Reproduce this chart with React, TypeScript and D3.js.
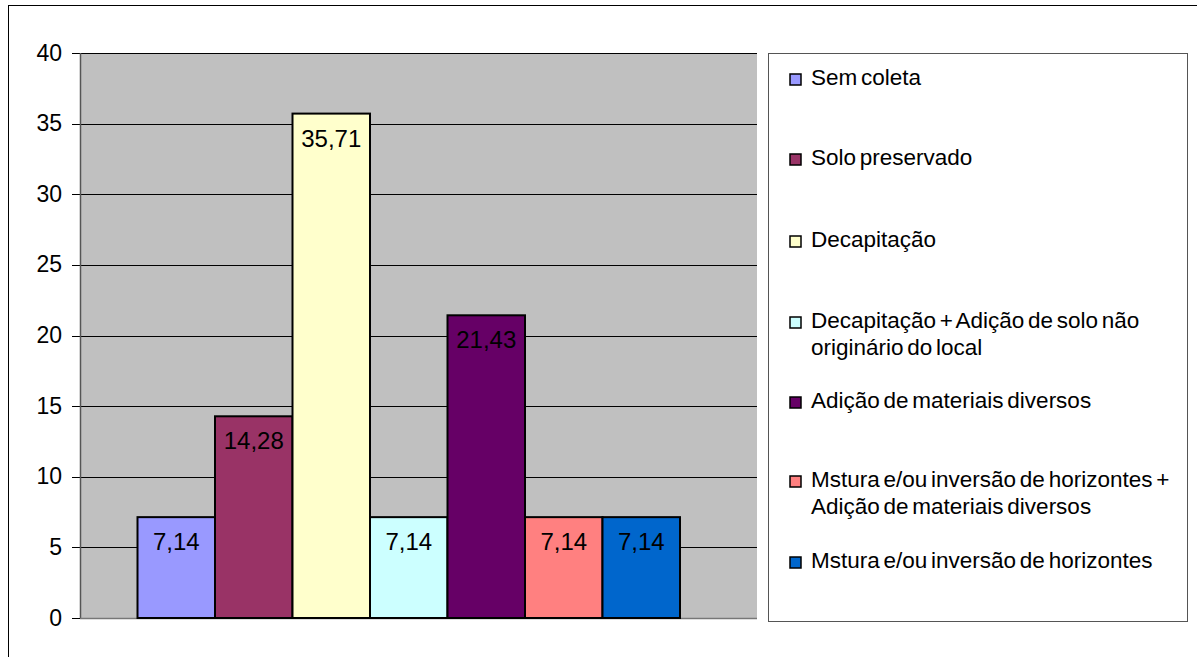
import React from "react";
import * as d3 from "d3";

const series = [
  "Sem coleta",
  "Solo preservado",
  "Decapitação",
  "Decapitação + Adição de solo não originário do local",
  "Adição de materiais diversos",
  "Mstura e/ou inversão de horizontes + Adição de materiais diversos",
  "Mstura e/ou inversão de horizontes",
];
const values = [7.14, 14.28, 35.71, 7.14, 21.43, 7.14, 7.14];
const labels = ["7,14", "14,28", "35,71", "7,14", "21,43", "7,14", "7,14"];
const colors = ["#9999FF", "#993366", "#FFFFCC", "#CCFFFF", "#660066", "#FF8080", "#0066CC"];
const legendLines = [
  ["Sem coleta"],
  ["Solo preservado"],
  ["Decapitação"],
  ["Decapitação + Adição de solo não", "originário do local"],
  ["Adição de materiais diversos"],
  ["Mstura e/ou inversão de horizontes +", "Adição de materiais diversos"],
  ["Mstura e/ou inversão de horizontes"],
];
const yTicks = [0, 5, 10, 15, 20, 25, 30, 35, 40];

const W = 1197, H = 657;
const plot = { x0: 80, x1: 757, y0: 53, y1: 618 };
const font = "'Liberation Sans', Arial, sans-serif";

export default function App() {
  const y = d3.scaleLinear().domain([0, 40]).range([plot.y1, plot.y0]);
  const x = d3.scaleBand<string>().domain(series).range([137.5, 680]).padding(0);
  const legendY = [85, 165, 247, 328, 408, 487, 568];
  return (
    <svg width={W} height={H} style={{ position: "absolute", left: 0, top: 0, background: "#fff" }}>
      <rect x={8.5} y={5.5} width={1300} height={800} fill="#fff" stroke="#000" strokeWidth={1} />
      <rect x={plot.x0} y={plot.y0} width={plot.x1 - plot.x0} height={plot.y1 - plot.y0} fill="#C0C0C0" />
      {yTicks.map((t) => (
        <g key={t}>
          {t > 0 && (
            <line x1={plot.x0} x2={plot.x1} y1={Math.round(y(t)) + 0.5} y2={Math.round(y(t)) + 0.5} stroke="#000" strokeWidth={1} />
          )}
          <line x1={72} x2={plot.x0} y1={Math.round(y(t)) + 0.5} y2={Math.round(y(t)) + 0.5} stroke="#000" strokeWidth={1} />
          <text x={62} y={y(t) + 7.5} textAnchor="end" fontFamily={font} fontSize={23} fill="#000">
            {t}
          </text>
        </g>
      ))}
      <line x1={plot.x0 + 0.5} x2={plot.x0 + 0.5} y1={plot.y0} y2={plot.y1} stroke="#555" strokeWidth={1.5} />
      <line x1={plot.x0} x2={plot.x1} y1={plot.y1 + 0.5} y2={plot.y1 + 0.5} stroke="#777" strokeWidth={1.5} />
      {series.map((s, i) => (
        <g key={s}>
          <rect
            x={x(s)!}
            y={y(values[i])}
            width={x.bandwidth()}
            height={plot.y1 - y(values[i])}
            fill={colors[i]}
            stroke="#000"
            strokeWidth={2}
          />
          <text
            x={x(s)! + x.bandwidth() / 2}
            y={y(values[i]) + 33}
            textAnchor="middle"
            fontFamily={font}
            fontSize={24}
            fill="#000"
          >
            {labels[i]}
          </text>
        </g>
      ))}
      <rect x={768.5} y={53.5} width={419} height={568} fill="#fff" stroke="#555" strokeWidth={1} />
      {legendLines.map((lines, i) => (
        <g key={i}>
          <rect x={790} y={legendY[i] - 11} width={11} height={11} fill={colors[i]} stroke="#000" strokeWidth={1.5} />
          {lines.map((ln, j) => (
            <text key={j} x={811} y={legendY[i] + j * 27} fontFamily={font} fontSize={22.5} wordSpacing={-2.5} fill="#000">
              {ln}
            </text>
          ))}
        </g>
      ))}
    </svg>
  );
}
